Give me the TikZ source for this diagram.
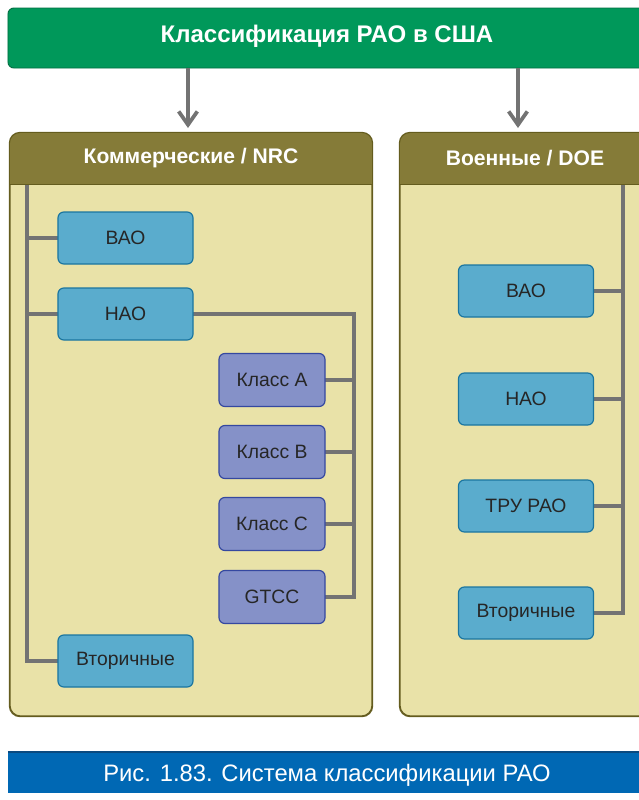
\documentclass[tikz,border=0pt]{standalone}
\usepackage{fontspec}
\setmainfont{Liberation Sans}
\usetikzlibrary{arrows.meta, positioning}
\definecolor{topgreen}{RGB}{0,152,90}
\definecolor{topgreenD}{RGB}{0,110,65}
\definecolor{headolive}{RGB}{133,123,56}
\definecolor{oliveD}{RGB}{100,92,30}
\definecolor{bodykhaki}{RGB}{233,226,168}
\definecolor{boxblue}{RGB}{90,172,205}
\definecolor{boxblueD}{RGB}{26,117,160}
\definecolor{boxviolet}{RGB}{133,145,200}
\definecolor{boxvioletD}{RGB}{53,72,160}
\definecolor{linkgray}{RGB}{115,115,115}
\definecolor{capblue}{RGB}{0,104,180}
\definecolor{capblueD}{RGB}{10,74,128}
\tikzset{
  titlebar/.style={rectangle, rounded corners=5pt, draw=topgreenD, fill=topgreen, line width=0.8pt,
              minimum width=19.86cm, minimum height=1.8cm, text=white, font=\fontsize{20.5}{24}\selectfont\bfseries},
  panel/.style={rectangle, rounded corners=9pt, draw=oliveD, fill=bodykhaki, line width=1pt,
              minimum height=17.49cm},
  headtext/.style={text=white, font=\fontsize{18}{21}\selectfont\bfseries},
  wastebox/.style={rectangle, rounded corners=5pt, draw=boxblueD, fill=boxblue, line width=1pt,
              minimum width=4.05cm, minimum height=1.56cm, text=black!85, font=\fontsize{16.5}{19}\selectfont},
  classbox/.style={rectangle, rounded corners=5pt, draw=boxvioletD, fill=boxviolet, line width=1pt,
              minimum width=3.18cm, minimum height=1.59cm, text=black!85, font=\fontsize{16.5}{19}\selectfont},
  link/.style={draw=linkgray, line width=3.2pt},
  arrow/.style={-{Straight Barb[length=4mm, width=5.6mm]}, draw=linkgray, line width=3.2pt},
  captionbar/.style={rectangle, fill=capblue, minimum width=19.86cm, minimum height=1.23cm,
              text=white, font=\fontsize{20.3}{24}\selectfont},
}

\begin{document}
\begin{tikzpicture}[x=0.03cm, y=-0.03cm]
  \useasboundingbox (0,0) rectangle (639,800);

  % title bar and arrows
  \node[titlebar] (top) at (339,38) {};
  \node[titlebar, draw=none, fill=none, minimum width=0cm] (toptext) at (327,36) {Классификация РАО в США};
  \coordinate (a1) at (188,128);
  \coordinate (a2) at (518,128);
  \draw[arrow] (top.south -| a1) -- (a1);
  \draw[arrow] (top.south -| a2) -- (a2);

  % panels
  \node[panel, minimum width=10.86cm] (nrc) at (191,424.5) {};
  \node[panel, minimum width=7.5cm] (doe) at (525,424.5) {};
  \foreach \p in {nrc, doe} {
    \begin{scope}
      \clip[rounded corners=9pt] (\p.north west) rectangle (\p.south east);
      \fill[headolive] (\p.north west) rectangle ([yshift=-1.56cm]\p.north east);
    \end{scope}
    \draw[draw=oliveD, line width=1pt, rounded corners=9pt] (\p.north west) rectangle (\p.south east);
    \draw[draw=oliveD, line width=1pt] ([yshift=-1.56cm]\p.north west) -- ([yshift=-1.56cm]\p.north east);
  }
  \node[headtext] (nrchead) at (191,158) {Коммерческие / NRC};
  \node[headtext] (doehead) at (525,158) {Военные / DOE};

  % commercial waste
  \coordinate (t1) at (27,185);
  \coordinate (t2) at (354,0);
  \draw[link] (t1) |- (125,238);
  \draw[link] (t1) |- (125,314);
  \draw[link] (t1) |- (125,661);
  \draw[link] (125,314) -| (t2 |- 272,597) -- (272,597);
  \foreach \y in {380,452,524}
    \draw[link] (272,\y) -- (t2 |- 272,\y);

  \node[wastebox] (vao1) at (125.5,238) {ВАО};
  \node[wastebox] (nao1) at (125.5,314) {НАО};
  \node[wastebox] (vt1) at (125.5,661) {Вторичные};
  \node[classbox] (ca) at (272,380) {Класс A};
  \node[classbox] (cb) at (272,452) {Класс B};
  \node[classbox] (cc) at (272,524) {Класс C};
  \node[classbox] (gtcc) at (272,597) {GTCC};

  % military waste
  \coordinate (t3) at (623,185);
  \draw[link] (t3) |- (526,613);
  \foreach \y in {291,399,506}
    \draw[link] (526,\y) -- (t3 |- 526,\y);
  \node[wastebox] (vao2) at (526,291) {ВАО};
  \node[wastebox] (nao2) at (526,399) {НАО};
  \node[wastebox] (tru) at (526,506) {ТРУ РАО};
  \node[wastebox] (vt2) at (526,613) {Вторичные};

  % caption
  \node[captionbar] (cap) at (339,772.5) {};
  \draw[draw=capblueD, line width=2pt] (cap.north west) -- (cap.north east);
  \node[captionbar, fill=none, minimum width=0cm] (captext) at (327,775) {Рис. 1.83. Система классификации РАО};
\end{tikzpicture}
\end{document}
